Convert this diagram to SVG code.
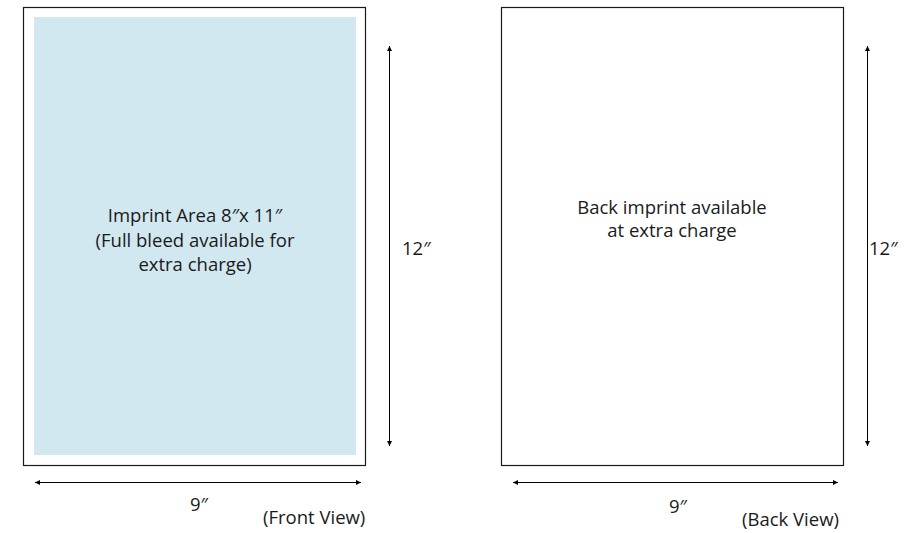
<svg xmlns="http://www.w3.org/2000/svg" width="911" height="533" viewBox="0 0 911 533">
<defs>
<marker id="ah" viewBox="0 0 10 10" refX="10" refY="5" markerWidth="5" markerHeight="5" markerUnits="userSpaceOnUse" orient="auto-start-reverse">
<path d="M0,0 L10,5 L0,10 z" fill="#000"/>
</marker>
<style>
.sheet{fill:#fff;stroke:#1a1a1a;stroke-width:1.2}
.imprint{fill:#d2e8f0}
.dim{stroke:#000;stroke-width:1;fill:none;marker-start:url(#ah);marker-end:url(#ah)}
text{font-family:"Open Sans","Noto Sans",sans-serif;font-size:18.5px;fill:#1a1a1a}
.c{text-anchor:middle}
</style>
</defs>
<rect width="911" height="533" fill="#fff"/>
<g id="front">
<rect class="sheet" x="23.5" y="7.5" width="342" height="458"/>
<rect class="imprint" x="34" y="17" width="322" height="438"/>
<text class="c" x="195" y="222">Imprint Area 8″x 11″</text>
<text class="c" x="195" y="247">(Full bleed available for</text>
<text class="c" x="195" y="271">extra charge)</text>
</g>
<g id="back">
<rect class="sheet" x="501.5" y="7.5" width="342" height="458"/>
<text class="c" x="672" y="214">Back imprint available</text>
<text class="c" x="672" y="237">at extra charge</text>
</g>
<g id="connectors">
<line class="dim" x1="389.5" y1="46" x2="389.5" y2="446"/>
<line class="dim" x1="35" y1="482.5" x2="361" y2="482.5"/>
<line class="dim" x1="867.5" y1="46" x2="867.5" y2="446"/>
<line class="dim" x1="513" y1="482.5" x2="838" y2="482.5"/>
</g>
<g id="labels">
<text x="402" y="255">12″</text>
<text x="869" y="255">12″</text>
<text class="c" x="199" y="511">9″</text>
<text class="c" x="678" y="513">9″</text>
<text x="263" y="524">(Front View)</text>
<text x="742" y="526">(Back View)</text>
</g>
</svg>
